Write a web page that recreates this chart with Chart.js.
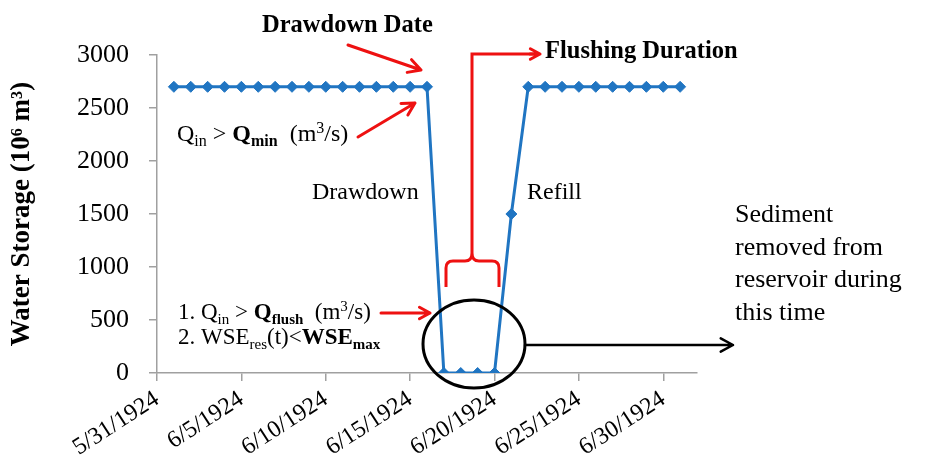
<!DOCTYPE html>
<html>
<head>
<meta charset="utf-8">
<script src="https://cdn.jsdelivr.net/npm/chart.js@4"></script>
<style>
  html, body { margin: 0; padding: 0; background: #fff; }
  #wrap { width: 936px; height: 471px; position: relative; }
</style>
</head>
<body>
<div id="wrap"><canvas id="chart"></canvas></div>
<script>
// ===== DATA =====
const dates = [
  "5/31/1924", "6/1/1924", "6/2/1924", "6/3/1924", "6/4/1924", "6/5/1924",
  "6/6/1924", "6/7/1924", "6/8/1924", "6/9/1924", "6/10/1924", "6/11/1924",
  "6/12/1924", "6/13/1924", "6/14/1924", "6/15/1924", "6/16/1924", "6/17/1924",
  "6/18/1924", "6/19/1924", "6/20/1924", "6/21/1924", "6/22/1924", "6/23/1924",
  "6/24/1924", "6/25/1924", "6/26/1924", "6/27/1924", "6/28/1924", "6/29/1924",
  "6/30/1924", "7/1/1924", "7/2/1924"
];
const storage = [
  null, 2700, 2700, 2700, 2700, 2700, 2700, 2700, 2700, 2700, 2700, 2700,
  2700, 2700, 2700, 2700, 2700, 0, 0, 0, 0, 1500, 2700, 2700,
  2700, 2700, 2700, 2700, 2700, 2700, 2700, 2700, null
];
const yTicks = [0, 500, 1000, 1500, 2000, 2500, 3000];

const SERIF = "'Liberation Serif', 'Times New Roman', serif";
const BLUE = "#2075c2";
const RED = "#ee1111";

// ===== RICH TEXT HELPER (sub / superscript, bold) =====
function drawRich(ctx, x, y, parts, size) {
  let cx = x;
  parts.forEach(([txt, flags]) => {
    flags = flags || "";
    const bold = flags.includes("b");
    const small = flags.includes("s") || flags.includes("p");
    const fs = small ? Math.round(size * 0.65) : size;
    let dy = 0;
    if (flags.includes("s")) dy = size * 0.22;
    if (flags.includes("p")) dy = -size * 0.35;
    ctx.font = (bold ? "bold " : "") + fs + "px " + SERIF;
    ctx.fillText(txt, cx, y + dy);
    cx += ctx.measureText(txt).width;
  });
}

function arrow(ctx, x1, y1, x2, y2, color, w, head) {
  const a = Math.atan2(y2 - y1, x2 - x1);
  ctx.save();
  ctx.strokeStyle = color;
  ctx.lineWidth = w;
  ctx.lineCap = "round";
  ctx.lineJoin = "round";
  ctx.beginPath();
  ctx.moveTo(x1, y1);
  ctx.lineTo(x2, y2);
  ctx.moveTo(x2 - head * Math.cos(a - 0.5), y2 - head * Math.sin(a - 0.5));
  ctx.lineTo(x2, y2);
  ctx.lineTo(x2 - head * Math.cos(a + 0.5), y2 - head * Math.sin(a + 0.5));
  ctx.stroke();
  ctx.restore();
}

// ===== ANNOTATIONS =====
const notes = {
  id: "notes",
  afterDraw(chart) {
    const ctx = chart.ctx;
    ctx.save();
    ctx.fillStyle = "#000";
    ctx.textBaseline = "alphabetic";
    ctx.textAlign = "left";

    drawRich(ctx, 262, 32, [["Drawdown Date", "b"]], 24.5);
    drawRich(ctx, 545, 58, [["Flushing Duration", "b"]], 24.5);
    drawRich(ctx, 177, 141, [["Q"], ["in", "s"], [" > "], ["Q", "b"], ["min", "bs"], ["  (m"], ["3", "p"], ["/s)"]], 24);
    drawRich(ctx, 312, 199, [["Drawdown"]], 24);
    drawRich(ctx, 527, 199, [["Refill"]], 24);
    drawRich(ctx, 178, 319, [["1. Q"], ["in", "s"], [" > "], ["Q", "b"], ["flush", "bs"], ["  (m"], ["3", "p"], ["/s)"]], 23);
    drawRich(ctx, 178, 344, [["2. WSE"], ["res", "s"], ["(t)<"], ["WSE", "b"], ["max", "bs"]], 23);
    ["Sediment", "removed from", "reservoir during", "this time"].forEach((t, i) => {
      drawRich(ctx, 735, 222 + i * 32.5, [[t]], 26);
    });

    // red arrows
    arrow(ctx, 348, 45, 421, 70, RED, 3, 14);
    arrow(ctx, 358, 137, 415, 103, RED, 3, 14);
    arrow(ctx, 381, 313, 430, 313, RED, 3, 12);

    // flushing bracket + line
    ctx.strokeStyle = RED;
    ctx.lineWidth = 3;
    ctx.lineJoin = "miter";
    ctx.beginPath();
    ctx.moveTo(472, 253);
    ctx.lineTo(472, 54);
    ctx.lineTo(536, 54);
    ctx.stroke();
    arrow(ctx, 530, 54, 540, 54, RED, 3, 11);
    ctx.beginPath();
    ctx.moveTo(446, 287);
    ctx.lineTo(446, 268);
    ctx.quadraticCurveTo(446, 261, 453, 261);
    ctx.lineTo(465, 261);
    ctx.quadraticCurveTo(472, 261, 472, 253);
    ctx.quadraticCurveTo(472, 261, 479, 261);
    ctx.lineTo(492, 261);
    ctx.quadraticCurveTo(499, 261, 499, 268);
    ctx.lineTo(499, 287);
    ctx.stroke();

    // ellipse + black arrow
    ctx.strokeStyle = "#000";
    ctx.lineWidth = 3;
    ctx.beginPath();
    ctx.ellipse(474, 344, 51, 44, 0, 0, Math.PI * 2);
    ctx.stroke();
    arrow(ctx, 525, 345, 733, 345, "#000", 2.5, 14);

    ctx.restore();
  }
};

Chart.defaults.font.family = SERIF;
Chart.defaults.color = "#000";

new Chart(document.getElementById("chart"), {
  type: "line",
  data: {
    labels: dates,
    datasets: [{
      data: storage,
      borderColor: BLUE,
      backgroundColor: BLUE,
      borderWidth: 3,
      pointStyle: "rectRot",
      pointRadius: 5.5,
      pointBorderWidth: 1,
      tension: 0,
      spanGaps: false,
    }],
  },
  options: {
    responsive: true,
    maintainAspectRatio: false,
    animation: false,
    layout: { padding: { left: 0, right: 239, top: 55, bottom: 0 } },
    plugins: { legend: { display: false }, tooltip: { enabled: false } },
    scales: {
      x: {
        type: "category",
        offset: false,
        border: { display: true, color: "#a0a0a0", width: 1.5 },
        grid: { drawOnChartArea: false, drawTicks: true, tickLength: 8, color: "#a0a0a0", lineWidth: 1.5 },
        ticks: {
          autoSkip: false,
          minRotation: 33,
          maxRotation: 33,
          padding: 4,
          font: { size: 24 },
          callback: function (v, i) { return i % 5 === 0 ? dates[i] : null; },
        },
        afterFit(scale) {
          scale.height = 98;
          scale.paddingLeft = 0;
          scale.paddingRight = 0;
        },
      },
      y: {
        min: 0,
        max: 3000,
        afterBuildTicks(scale) { scale.ticks = yTicks.map(v => ({ value: v })); },
        border: { display: true, color: "#a0a0a0", width: 1.5 },
        grid: { drawOnChartArea: false, drawTicks: true, tickLength: 8, color: "#a0a0a0", lineWidth: 1.5 },
        ticks: { padding: 20, font: { size: 26 }, callback: v => String(v) },
        title: {
          display: true,
          text: "Water Storage (10\u2076 m\u00b3)",
          font: { size: 27, weight: "bold" },
          padding: { top: 6, bottom: 0 },
        },
        afterFit(scale) { scale.width = 157; },
      },
    },
  },
  plugins: [notes],
});
</script>
</body>
</html>
